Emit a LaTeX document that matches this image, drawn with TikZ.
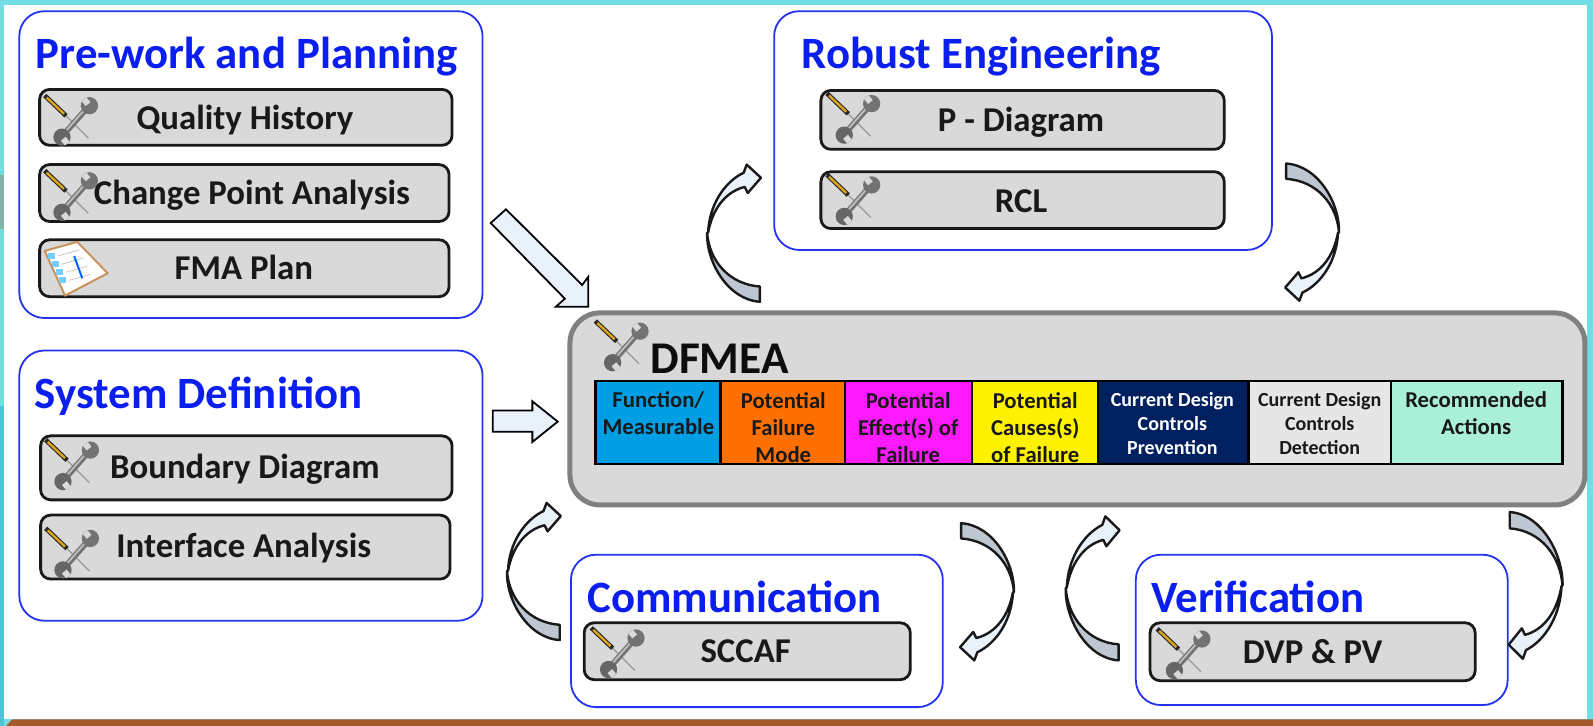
\documentclass[tikz,border=0pt]{standalone}
\usepackage{fontspec}
\setmainfont{Carlito}
\usetikzlibrary{calc}
\definecolor{teal1}{HTML}{72DDE3}
\definecolor{teal2}{HTML}{4FC3D8}
\definecolor{tealg}{HTML}{7FB3A5}
\definecolor{brownb}{HTML}{A5582C}
\definecolor{groupblue}{HTML}{2433F0}
\definecolor{titleblue}{HTML}{0A1EF0}
\definecolor{panel}{HTML}{D9D9D9}
\definecolor{dframe}{HTML}{808080}
\definecolor{tailgray}{HTML}{BEC6D2}
\definecolor{headblue}{HTML}{E9F1FB}
\definecolor{gold}{HTML}{DDA51E}
\definecolor{clipb}{HTML}{C9925C}
\definecolor{colc1}{HTML}{009FE3}
\definecolor{colc2}{HTML}{FF7000}
\definecolor{colc3}{HTML}{FF19FF}
\definecolor{colc4}{HTML}{FFF200}
\definecolor{colc5}{HTML}{002060}
\definecolor{colc6}{HTML}{E7E6E6}
\definecolor{colc7}{HTML}{AAF0D8}
\tikzset{
  x=1.016pt,y=-1.016pt,
  groupbox/.style={draw=groupblue,line width=1.8pt,fill=white,rounded corners=25},
  toolbar/.style={draw=black!90,line width=2.8pt,fill=panel,rounded corners=10},
  grouptitle/.style={anchor=base west,font=\fontsize{44.8}{48}\selectfont\bfseries,text=titleblue,inner sep=0pt},
  itemlabel/.style={anchor=base,font=\fontsize{34.8}{38}\selectfont\bfseries,text=black!90,inner sep=0pt},
  cell/.style={draw=black,line width=2.4pt},
  celltext/.style={anchor=base,align=center,font=\fontsize{22.7}{27}\selectfont\bfseries,text=black!90,inner sep=0pt},
  cellsmall/.style={anchor=base,align=center,font=\fontsize{20}{24}\selectfont\bfseries,inner sep=0pt},
  blockarrow/.style={draw=black,line width=1.8pt,fill=headblue,line join=miter},
  ribbonback/.style={draw=black!90,line width=2.4pt,fill=tailgray,line join=round},
  ribbonfront/.style={draw=black!90,line width=2.4pt,fill=headblue,line join=round}
}
\newcommand{\toolicon}[1]{%
\begin{scope}[shift={(#1)}]
  \draw[line width=1.2pt,color=black!40] (20,19)--(43,42);
  \draw[line width=4.6pt,color=black!85] (0,0)--(21,20);
  \draw[line width=2.4pt,color=gold] (2,2)--(19,18);
  \draw[line width=5.8pt,color=black!55] (19,38)--(42,12);
  \draw[line width=1.8pt,color=black!25] (19,37)--(41,12);
  \fill[black!55] (44,10) circle (8.5);
  \begin{scope}
    \clip (44,10) circle (8.5);
    \fill[panel,rotate around={40:(44,10)}] (41,-2) rectangle (47,8);
  \end{scope}
  \fill[black!60] (17,41) circle (8.5);
  \begin{scope}
    \clip (17,41) circle (8.5);
    \fill[panel,rotate around={40:(17,41)}] (14,43) rectangle (20,53);
  \end{scope}
\end{scope}}
\newcommand{\curvedarrow}[2]{%
\begin{scope}[shift={(#1)},#2]
  \path[ribbonback] (0,-15) .. controls (-30,-17) and (-50,-40) .. (-52,-68)
     .. controls (-53,-40) and (-32,-2) .. (0,0) -- cycle;
  \path[ribbonfront] (-51,-68) .. controls (-50,-95) and (-35,-118) .. (-16,-127)
     -- (-13,-135) -- (1,-122) -- (-12,-107) -- (-15,-113)
     .. controls (-35,-108) and (-47,-90) .. (-51,-68) -- cycle;
\end{scope}}
\begin{document}
\begin{tikzpicture}
\useasboundingbox (0,0) rectangle (1568,714.6);
% page background
\fill[teal1] (0,0) rectangle (1568,714.6);
\fill[teal2] (0,400) rectangle (4,714.6);
\fill[tealg] (0,172) rectangle (4,225);
\fill[white] (4,5) rectangle (1562,708);
\fill[brownb] (12,708) -- (1568,708) -- (1568,714.6) -- (6,714.6) -- cycle;
% groups
\draw[groupbox] (19,11) rectangle (475,313);
\draw[groupbox] (19,345) rectangle (475,611);
\draw[groupbox] (762,11) rectangle (1252,246);
\draw[groupbox] (562,546) rectangle (928,696);
\draw[groupbox] (1118,546) rectangle (1484,694);
\node[grouptitle] (t1) at (35,67) {Pre-work and Planning};
\node[grouptitle] (t2) at (34,402) {System Definition};
\node[grouptitle] (t3) at (789,67) {Robust Engineering};
\node[grouptitle] (t4) at (578,603) {Communication};
\node[grouptitle] (t5) at (1133,603) {Verification};
% tool bars
\draw[toolbar] (39,88) rectangle (445,143);
\draw[toolbar] (39,162) rectangle (442,218);
\draw[toolbar] (39,236) rectangle (442,292);
\draw[toolbar] (40,429) rectangle (445,492);
\draw[toolbar] (40,507) rectangle (443,570);
\draw[toolbar] (808,89) rectangle (1205,147);
\draw[toolbar] (808,169) rectangle (1205,225);
\draw[toolbar] (575,613) rectangle (896,669);
\draw[toolbar] (1132,613) rectangle (1452,670);
\toolicon{44,94}
\toolicon{44,168}
\toolicon{45,433}
\toolicon{45,520}
\toolicon{814,92}
\toolicon{814,172}
\toolicon{582,618}
\toolicon{1139,619}
% clipboard
\begin{scope}
  \draw[line width=2pt,draw=clipb,fill=white,line join=round] (44,247) -- (76,238) -- (106,269) -- (64,291) -- cycle;
  \foreach \a/\b in {50/252,54/260,58/268,61/276}{
    \fill[blue!35!cyan!55] (\a,\b) ++(-3,-3) rectangle ++(7,6);
    \draw[black!30,line width=.5pt] (\a+7,\b) -- (\a+28,\b-6);
  }
  \draw[line width=2pt,color=blue!60!cyan] (73,252) -- (81,274);
\end{scope}
\node[itemlabel] (i1) at (241,127) {Quality History};
\node[itemlabel] (i2) at (248,201) {Change Point Analysis};
\node[itemlabel] (i3) at (240,275) {FMA Plan};
\node[itemlabel] (i4) at (241,471) {Boundary Diagram};
\node[itemlabel] (i5) at (240,549) {Interface Analysis};
\node[itemlabel] (i6) at (1005,129) {P - Diagram};
\node[itemlabel] (i7) at (1005,209) {RCL};
\node[itemlabel] (i8) at (734,652) {SCCAF};
\node[itemlabel] (i9) at (1292,653) {DVP \& PV};
% block arrows
\path[blockarrow] (485,404) -- (524,404) -- (524,395) -- (549,415) -- (524,435) -- (524,425) -- (485,425) -- cycle;
\path[blockarrow] (483,219.5) -- (498,206) -- (573,280.5) -- (579,272.5) -- (579,302) -- (547,302) -- (556,294) -- cycle;
% DFMEA
\draw[draw=dframe,line width=5pt,fill=panel,rounded corners=30] (561,308) rectangle (1560,497);
\toolicon{586,316}
\node[anchor=base west,font=\fontsize{45.4}{48}\selectfont\bfseries,inner sep=0pt,text=black!95] (dfmea) at (640,368) {DFMEA};
\foreach \n/\xa/\xb in {c1/586/709,c2/709/832,c3/832/957,c4/957/1081,c5/1081/1229,c6/1229/1369,c7/1369/1538}{
  \path[cell,fill=col\n] (\xa,375) rectangle (\xb,457);
}
\node[celltext] (c1t) at (648,428) {Function/\\Measurable};
\node[celltext] (c2t) at (771,455) {Potential\\Failure\\Mode};
\node[celltext] (c3t) at (894,455) {Potential\\Effect(s) of\\Failure};
\node[celltext] (c4t) at (1019,455) {Potential\\Causes(s)\\of Failure};
\node[cellsmall,text=white] (c5t) at (1154,447) {Current Design\\Controls\\Prevention};
\node[cellsmall,text=black!90] (c6t) at (1299,447) {Current Design\\Controls\\Detection};
\node[celltext] (c7t) at (1453,428) {Recommended\\Actions};
\draw[line width=2.4pt] (586,457) -- (1538,457);
% curved arrows
\curvedarrow{748,297}{}
\curvedarrow{1266,161}{xscale=-1,yscale=-1}
\curvedarrow{551,630}{}
\curvedarrow{946,515}{xscale=-1,yscale=-1}
\curvedarrow{1101,650}{yscale=1.05}
\curvedarrow{1486,504}{xscale=-1,yscale=-1.07}
\end{tikzpicture}
\end{document}
